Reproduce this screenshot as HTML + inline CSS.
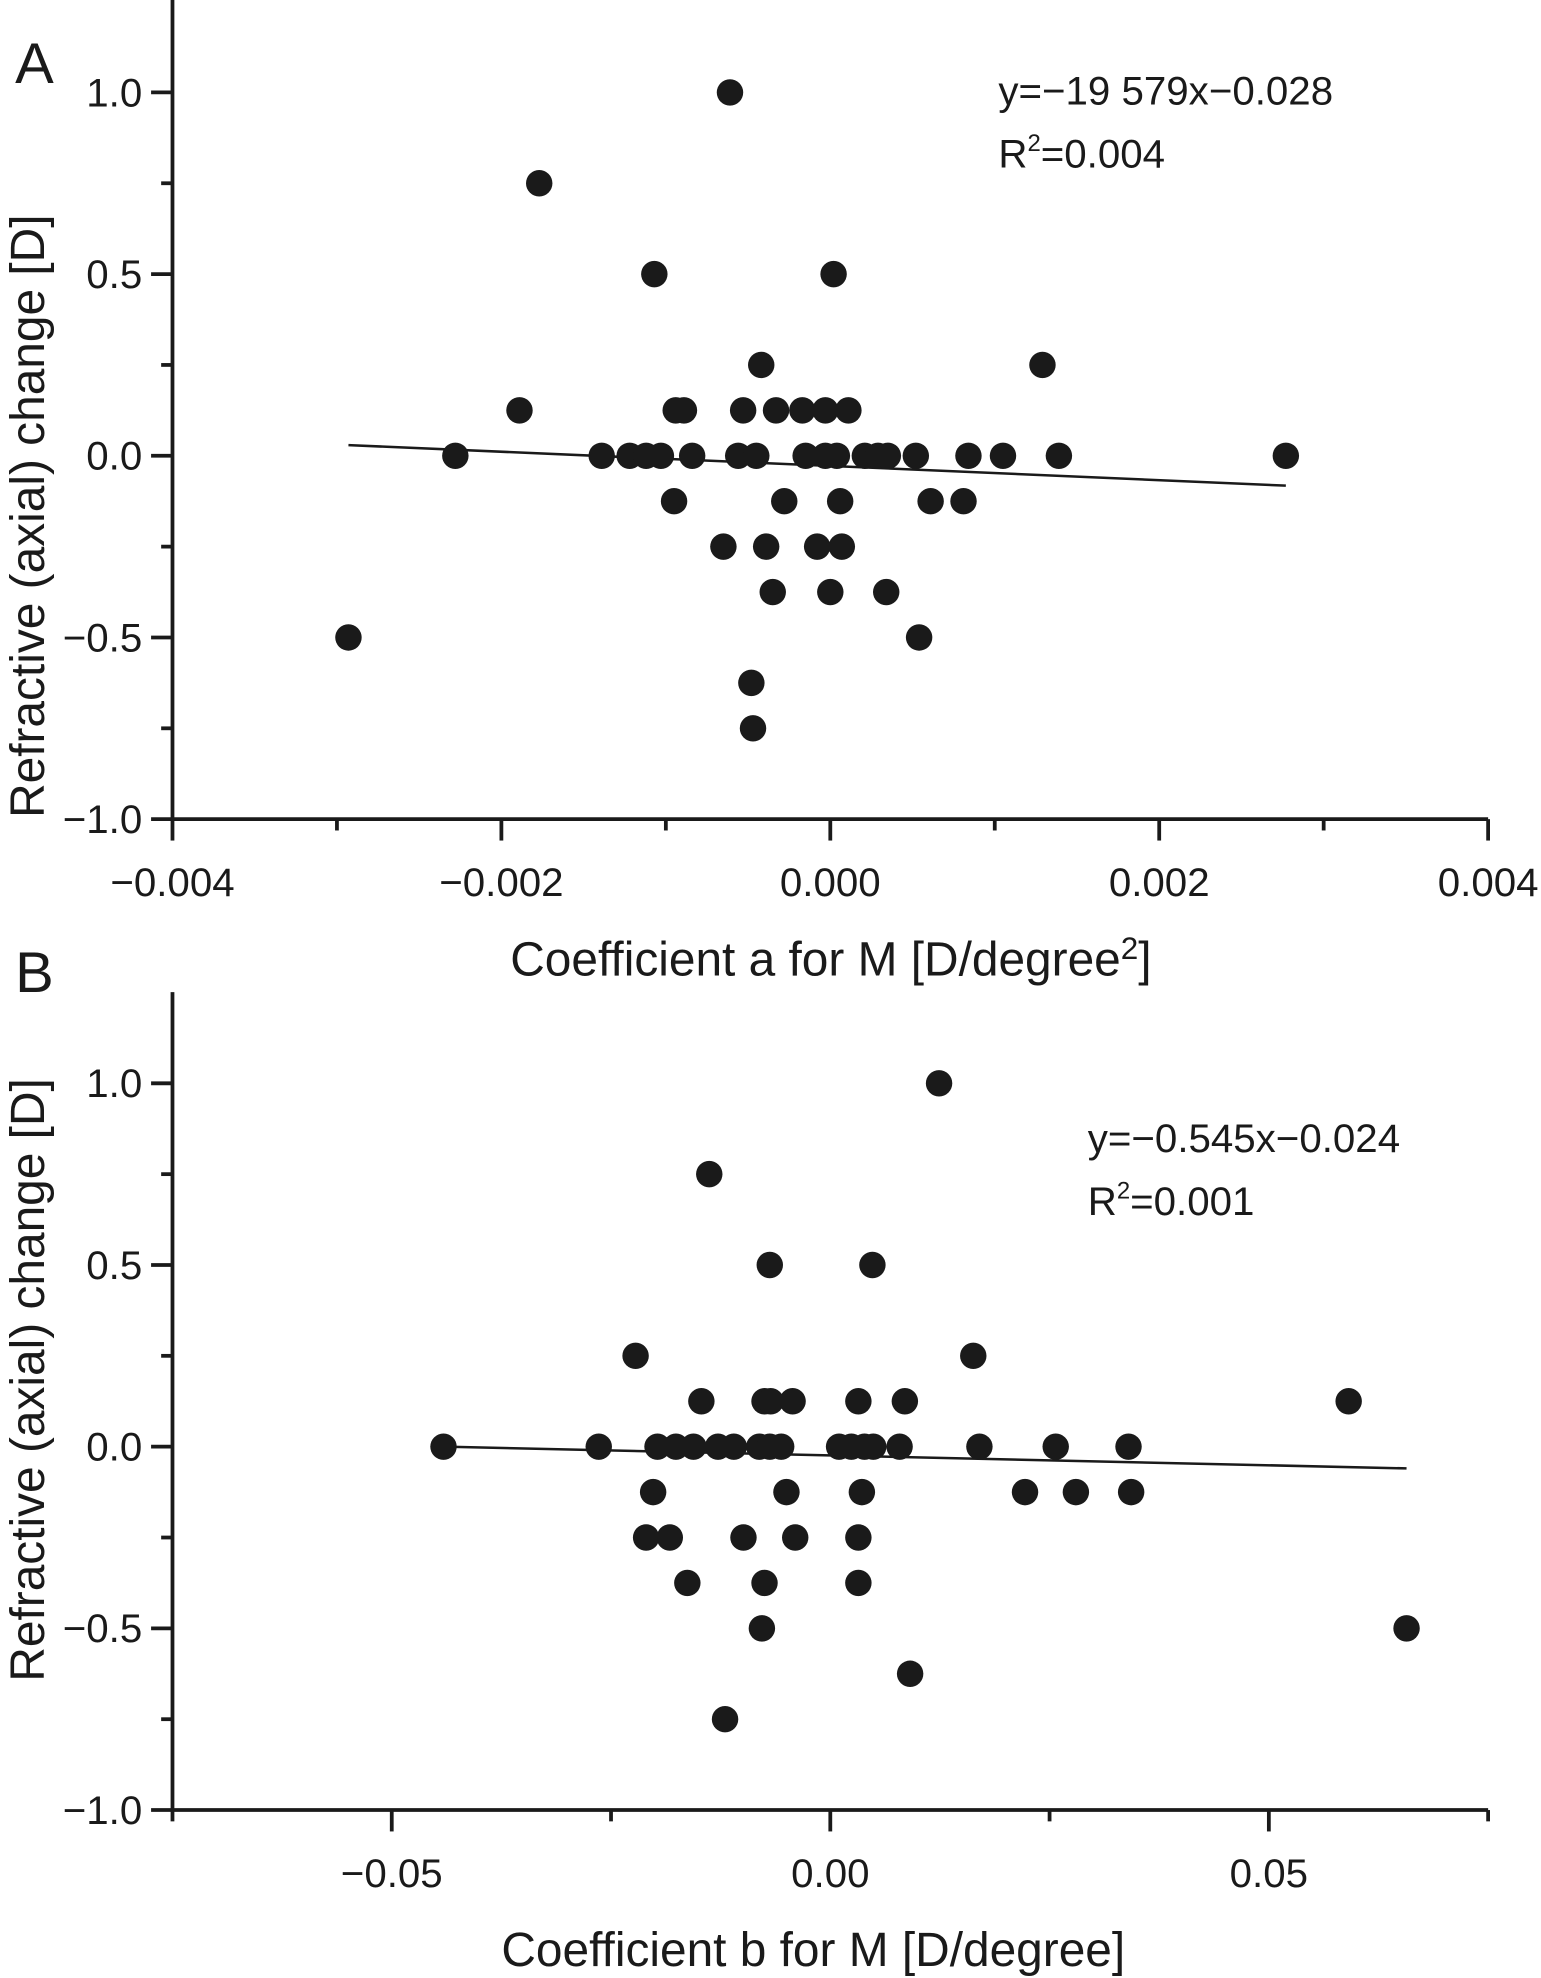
<!DOCTYPE html>
<html><head><meta charset="utf-8"><style>
html,body{margin:0;padding:0;background:#fff}
svg{display:block}
text{font-family:"Liberation Sans",Arial,sans-serif;fill:#1a1a1a}
</style></head><body>
<svg id="chart" width="1541" height="1978" viewBox="0 0 1224 1571" preserveAspectRatio="none" xmlns="http://www.w3.org/2000/svg"></svg>
<script>
// Panel A data
const aX = [-0.00061,-0.00177,-0.00107,0.00002,-0.00042,0.00129,-0.00189,-0.00094,-0.00089,-0.00053,-0.00033,-0.00017,-0.00003,0.00011,
 -0.00228,-0.00139,-0.00122,-0.00112,-0.00103,-0.00084,-0.00056,-0.00045,-0.00015,-0.00003,0.00004,0.00021,0.00029,0.00035,0.00052,0.00084,0.00105,0.00139,0.00277,
 -0.00095,-0.00028,0.00006,0.00061,0.00081,-0.00065,-0.00039,-0.00008,0.00007,-0.00035,0.0,0.00034,-0.00293,0.00054,-0.00048,-0.00047];
const aY = [1.0,0.75,0.5,0.5,0.25,0.25,0.125,0.125,0.125,0.125,0.125,0.125,0.125,0.125,
 0,0,0,0,0,0,0,0,0,0,0,0,0,0,0,0,0,0,0,
 -0.125,-0.125,-0.125,-0.125,-0.125,-0.25,-0.25,-0.25,-0.25,-0.375,-0.375,-0.375,-0.5,-0.5,-0.625,-0.75];
const aXTicks = [-0.004,-0.002,0.000,0.002,0.004];
const aXTickLabels = ["\u22120.004","\u22120.002","0.000","0.002","0.004"];
const aFit = {slope:-19.579, intercept:-0.028, x0:-0.00293, x1:0.00277};
// Panel B data
const bX = [0.0124,-0.0138,-0.0069,0.0048,-0.0222,0.0163,
 -0.0147,-0.0075,-0.0068,-0.0043,0.0032,0.0085,0.0591,
 -0.0441,-0.0264,-0.0197,-0.0176,-0.0156,-0.0128,-0.0110,-0.0081,-0.0069,-0.0056,0.0010,0.0024,0.0039,0.0049,0.0079,0.0170,0.0257,0.0340,
 -0.0202,-0.0050,0.0036,0.0222,0.0280,0.0343,
 -0.0210,-0.0183,-0.0099,-0.0040,0.0032,
 -0.0163,-0.0075,0.0032,-0.0078,0.0657,0.0091,-0.0120];
const bY = [1.0,0.75,0.5,0.5,0.25,0.25,
 0.125,0.125,0.125,0.125,0.125,0.125,0.125,
 0,0,0,0,0,0,0,0,0,0,0,0,0,0,0,0,0,0,
 -0.125,-0.125,-0.125,-0.125,-0.125,-0.125,
 -0.25,-0.25,-0.25,-0.25,-0.25,
 -0.375,-0.375,-0.375,-0.5,-0.5,-0.625,-0.75];
const bXTicks = [-0.05,0.00,0.05];
const bXTickLabels = ["\u22120.05","0.00","0.05"];
const bFit = {slope:-0.545, intercept:-0.024, x0:-0.0441, x1:0.0657};
const yTicks = [1.0,0.5,0.0,-0.5,-1.0];
const yTickLabels = ["1.0","0.5","0.0","\u22120.5","\u22121.0"];

const svg = document.getElementById('chart');
const NS = 'http://www.w3.org/2000/svg';
function mk(tag, attrs, parent){const e=document.createElementNS(NS,tag);for(const k in attrs)e.setAttribute(k,attrs[k]);(parent||svg).appendChild(e);return e;}

function panel(o){
  const g = mk('g',{});
  
  
  const L=137,R=1182;
  const sx = v => L + (v - o.xmin)/(o.xmax - o.xmin)*(R-L);
  const sy = v => o.y0 - v*288.6;
  const top=o.top, bot=sy(-1);
  const ya = mk('line',{x1:L,y1:top,x2:L,y2:bot,stroke:'#1a1a1a','stroke-width':3},g);
   
  const xa = mk('line',{x1:L-1.5,y1:bot,x2:R,y2:bot,stroke:'#1a1a1a','stroke-width':3},g);
   
  for(let v=-1; v<=1.0001; v+=0.25){
    const major = Math.abs(v*2-Math.round(v*2))<1e-6;
    mk('line',{x1:L-(major?17:9),y1:sy(v),x2:L,y2:sy(v),stroke:'#1a1a1a','stroke-width':3},g);
  }
  yTicks.forEach((v,i)=>{
    const t=mk('text',{x:113,y:sy(v)+11,'text-anchor':'end','font-size':32},g);
    t.textContent=yTickLabels[i];
     
  });
  for(let v=o.xmin; v<=o.xmax+o.minor*0.01; v+=o.minor){
    const isMaj = o.xt.some(m=>Math.abs(m-v)<o.minor*0.01);
    mk('line',{x1:sx(v),y1:bot,x2:sx(v),y2:bot+(isMaj?17:9),stroke:'#1a1a1a','stroke-width':3},g);
  }
  o.xt.forEach((v,i)=>{
    const t=mk('text',{x:sx(v),y:bot+61,'text-anchor':'middle','font-size':32},g);
    t.textContent=o.xl[i];
     
  });
  const f=o.fit;
  const fl=mk('line',{x1:sx(f.x0),y1:sy(f.slope*f.x0+f.intercept),x2:sx(f.x1),y2:sy(f.slope*f.x1+f.intercept),stroke:'#1a1a1a','stroke-width':2},g);
   
  o.xs.forEach((x,i)=>{
    const c=mk('circle',{cx:sx(x),cy:sy(o.ys[i]),r:10.5,fill:'#1a1a1a'},g);
    
    
  });
  const pl=mk('text',{x:12,y:o.letterY,'font-size':46},g); pl.textContent=o.letter;
   
  const yt=mk('text',{x:0,y:0,'font-size':38,'text-anchor':'middle',transform:`translate(35,${o.yTitleY}) rotate(-90)`},g);
  yt.textContent='Refractive (axial) change [D]';
   
  const xt=mk('text',{x:o.xTitleX,y:bot+124,'font-size':38,'text-anchor':'middle'},g);
  xt.innerHTML=o.xTitle;
   
  const e1=mk('text',{x:o.eqX,y:o.eqY,'font-size':32},g); e1.textContent=o.eq;
   
  const e2=mk('text',{x:o.eqX,y:o.eqY+50,'font-size':32},g);
  e2.innerHTML='R<tspan dy="-13" font-size="19">2</tspan><tspan dy="13">='+o.r2+'</tspan>';
   
}

panel({name:'panel-a',xmin:-0.004,xmax:0.004,minor:0.001,xt:aXTicks,xl:aXTickLabels,y0:362,top:0,
  xs:aX,ys:aY,fit:aFit,letter:'A',letterY:66,yTitleY:410,xTitleX:660,
  xTitle:'Coefficient a for M [D/degree<tspan dy="-13" font-size="25">2</tspan><tspan dy="13">]</tspan>',
  eq:'y=\u221219 579x\u22120.028',r2:'0.004',eqX:793,eqY:83});
panel({name:'panel-b',xmin:-0.075,xmax:0.075,minor:0.025,xt:bXTicks,xl:bXTickLabels,y0:1149,top:788,
  xs:bX,ys:bY,fit:bFit,letter:'B',letterY:788,yTitleY:1096,xTitleX:646,
  xTitle:'Coefficient b for M [D/degree]',
  eq:'y=\u22120.545x\u22120.024',r2:'0.001',eqX:864,eqY:915});
</script>
</body></html>
